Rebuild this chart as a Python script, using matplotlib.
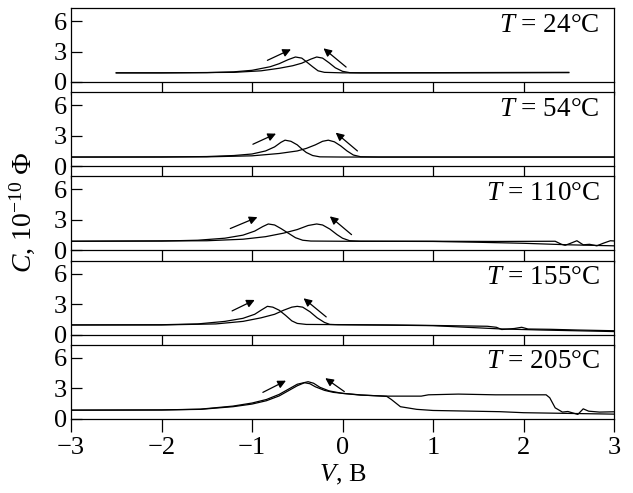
import numpy as np
import matplotlib
matplotlib.use("Agg")
import matplotlib.pyplot as plt

plt.rcParams['font.family'] = ['Liberation Serif', 'DejaVu Serif']
plt.rcParams['mathtext.fontset'] = 'custom'
plt.rcParams['mathtext.rm'] = 'Liberation Serif'
plt.rcParams['mathtext.it'] = 'Liberation Serif:italic'
plt.rcParams['font.size'] = 18

# temperatures of the five panels (top to bottom)
temps = [24, 54, 110, 155, 205]

# forward sweep (V, C) per panel
v_fwd_24 = [-2.5, -2.0, -1.5, -1.2, -1.0, -0.8, -0.7, -0.6, -0.52, -0.45, -0.4, -0.33, -0.27, -0.2, 0.0, 1.0, 2.5]
c_fwd_24 = [0.9, 0.9, 0.92, 1.0, 1.15, 1.5, 1.8, 2.2, 2.46, 2.35, 2.0, 1.5, 1.1, 0.95, 0.9, 0.9, 0.92]
v_rev_24 = [-2.5, -2.0, -1.2, -0.9, -0.7, -0.55, -0.45, -0.35, -0.285, -0.22, -0.15, -0.08, 0.0, 0.08, 0.2, 1.0, 2.5]
c_rev_24 = [0.9, 0.9, 0.95, 1.1, 1.35, 1.6, 1.85, 2.25, 2.46, 2.35, 1.9, 1.4, 1.05, 0.92, 0.9, 0.92, 0.95]

v_fwd_54 = [-3.0, -2.0, -1.5, -1.2, -1.0, -0.85, -0.75, -0.68, -0.635, -0.57, -0.5, -0.45, -0.4, -0.33, -0.25, 0.0, 3.0]
c_fwd_54 = [0.9, 0.9, 0.95, 1.05, 1.2, 1.5, 1.9, 2.35, 2.56, 2.45, 2.1, 1.7, 1.35, 1.05, 0.92, 0.9, 0.9]
v_rev_54 = [-3.0, -1.5, -1.0, -0.7, -0.5, -0.4, -0.3, -0.22, -0.157, -0.09, -0.02, 0.05, 0.12, 0.2, 0.4, 3.0]
c_rev_54 = [0.9, 0.92, 1.02, 1.25, 1.5, 1.75, 2.1, 2.45, 2.56, 2.4, 2.0, 1.5, 1.1, 0.93, 0.9, 0.9]

v_fwd_110 = [-3.0, -2.0, -1.6, -1.3, -1.1, -0.97, -0.88, -0.82, -0.75, -0.68, -0.6, -0.52, -0.44, -0.35, 0.0, 1.0,
             1.7, 2.35, 2.42, 2.46, 2.52, 2.59, 2.66, 2.73, 2.81, 2.88, 2.96, 3.0]
c_fwd_110 = [0.9, 0.92, 1.0, 1.2, 1.5, 1.9, 2.35, 2.6, 2.5, 2.15, 1.7, 1.25, 1.0, 0.92, 0.9, 0.9,
             0.88, 0.9, 0.6, 0.5, 0.7, 0.95, 0.55, 0.6, 0.45, 0.7, 0.95, 0.93]
v_rev_110 = [-3.0, -1.5, -1.1, -0.85, -0.65, -0.5, -0.38, -0.285, -0.22, -0.14, -0.06, 0.0, 0.08, 0.2, 1.0, 1.5, 2.0, 2.5, 3.0]
c_rev_110 = [0.9, 0.95, 1.1, 1.35, 1.7, 2.05, 2.45, 2.6, 2.5, 2.1, 1.55, 1.2, 0.95, 0.9, 0.88, 0.8, 0.7, 0.55, 0.45]

v_fwd_155 = [-3.0, -2.0, -1.6, -1.3, -1.1, -0.97, -0.9, -0.83, -0.77, -0.7, -0.63, -0.56, -0.5, -0.4, 0.0, 0.5, 1.0,
             1.6, 1.7, 1.76, 1.9, 1.98, 2.05, 2.3, 2.6, 3.0]
c_fwd_155 = [0.95, 0.97, 1.05, 1.3, 1.6, 2.0, 2.4, 2.78, 2.7, 2.4, 1.9, 1.35, 1.1, 1.0, 0.98, 0.95, 0.9,
             0.82, 0.72, 0.5, 0.6, 0.72, 0.55, 0.52, 0.45, 0.38]
v_rev_155 = [-3.0, -2.0, -1.4, -1.1, -0.9, -0.75, -0.65, -0.56, -0.5, -0.44, -0.36, -0.28, -0.2, -0.14, -0.05, 0.5, 1.0, 1.74, 2.2, 3.0]
c_rev_155 = [0.95, 0.95, 1.05, 1.3, 1.65, 2.0, 2.4, 2.7, 2.78, 2.7, 2.25, 1.65, 1.2, 1.0, 0.97, 0.93, 0.88, 0.56, 0.45, 0.3]

v_fwd_205 = [-3.0, -2.0, -1.57, -1.21, -1.0, -0.84, -0.7, -0.6, -0.5, -0.42, -0.36, -0.3, -0.2, -0.1, 0.01, 0.2,
             0.49, 0.54, 0.64, 0.82, 1.0, 1.74, 2.0, 3.0]
c_fwd_205 = [0.85, 0.87, 0.93, 1.19, 1.45, 1.78, 2.25, 2.75, 3.25, 3.55, 3.45, 3.15, 2.8, 2.6, 2.5, 2.35,
             2.2, 1.9, 1.19, 0.93, 0.82, 0.7, 0.6, 0.46]
v_rev_205 = [-3.0, -2.0, -1.57, -1.21, -1.0, -0.84, -0.7, -0.6, -0.5, -0.38, -0.32, -0.25, -0.15, 0.0, 0.2, 0.5,
             0.87, 0.95, 1.28, 1.69, 2.25, 2.29, 2.35, 2.43, 2.49, 2.6, 2.66, 2.72, 2.84, 3.0]
c_rev_205 = [0.85, 0.87, 0.95, 1.25, 1.55, 1.9, 2.4, 2.9, 3.4, 3.65, 3.5, 3.1, 2.75, 2.5, 2.33, 2.23,
             2.23, 2.36, 2.43, 2.36, 2.36, 2.07, 1.08, 0.66, 0.72, 0.43, 0.98, 0.75, 0.66, 0.69]

curves = [
    (v_fwd_24, c_fwd_24, v_rev_24, c_rev_24),
    (v_fwd_54, c_fwd_54, v_rev_54, c_rev_54),
    (v_fwd_110, c_fwd_110, v_rev_110, c_rev_110),
    (v_fwd_155, c_fwd_155, v_rev_155, c_rev_155),
    (v_fwd_205, c_fwd_205, v_rev_205, c_rev_205),
]

# sweep-direction arrows: (tail V, tail C, head V, head C)
arrows_fwd = [(-0.83, 2.13, -0.57, 3.21), (-0.99, 2.16, -0.735, 3.2), (-1.24, 2.15, -0.94, 3.27),
              (-1.22, 2.33, -0.97, 3.41), (-0.88, 2.6, -0.625, 3.75)]
arrows_rev = [(0.04, 1.47, -0.21, 3.31), (0.165, 1.5, -0.075, 3.3), (0.10, 1.55, -0.14, 3.35),
              (-0.18, 1.74, -0.43, 3.57), (0.02, 2.68, -0.19, 4.0)]

xticks = [-3, -2, -1, 0, 1, 2, 3]
yticks = [0, 3, 6]

W, H = 633, 493
fig = plt.figure(figsize=(W / 100, H / 100), dpi=100)
left, width = 71 / W, 543 / W
ph, step, top0 = 74, 84.2, 8

axes = []
for i in range(5):
    top = top0 + step * i
    ax = fig.add_axes([left, 1 - (top + ph) / H, width, ph / H])
    axes.append(ax)
    vf, cf, vr, cr = curves[i]
    ax.plot(vf, cf, color='black', lw=0.9)
    ax.plot(vr, cr, color='black', lw=0.9)
    for a in (arrows_fwd[i], arrows_rev[i]):
        ax.annotate('', xy=(a[2], a[3]), xytext=(a[0], a[1]),
                    arrowprops=dict(arrowstyle='-|>', color='black', lw=0.9,
                                    mutation_scale=12, shrinkA=0, shrinkB=0))
    ax.set_xlim(-3, 3)
    ax.set_ylim(0, 7.28)
    ax.set_xticks(xticks)
    ax.set_yticks(yticks)
    ax.tick_params(axis='y', direction='in', length=8, width=0.9, pad=3, labelsize=19)
    ax.tick_params(axis='x', direction='out', length=9, width=0.9, pad=4, labelsize=19)
    for s in ax.spines.values():
        s.set_linewidth(0.9)
    if i < 4:
        ax.set_xticklabels([])
    ax.text(0.974, 0.77, r'$T$ = %d°C' % temps[i], transform=ax.transAxes,
            ha='right', va='center', fontsize=19.5)

axes[-1].set_xlabel(r'$V$, В', labelpad=3, fontsize=19)
fig.text(22 / W, 1 - 212 / H, r'$C$, 10$^{\mathregular{-10}}$ Ф', rotation=90,
         ha='center', va='center', fontsize=20)

fig.savefig('out.png', dpi=100)
